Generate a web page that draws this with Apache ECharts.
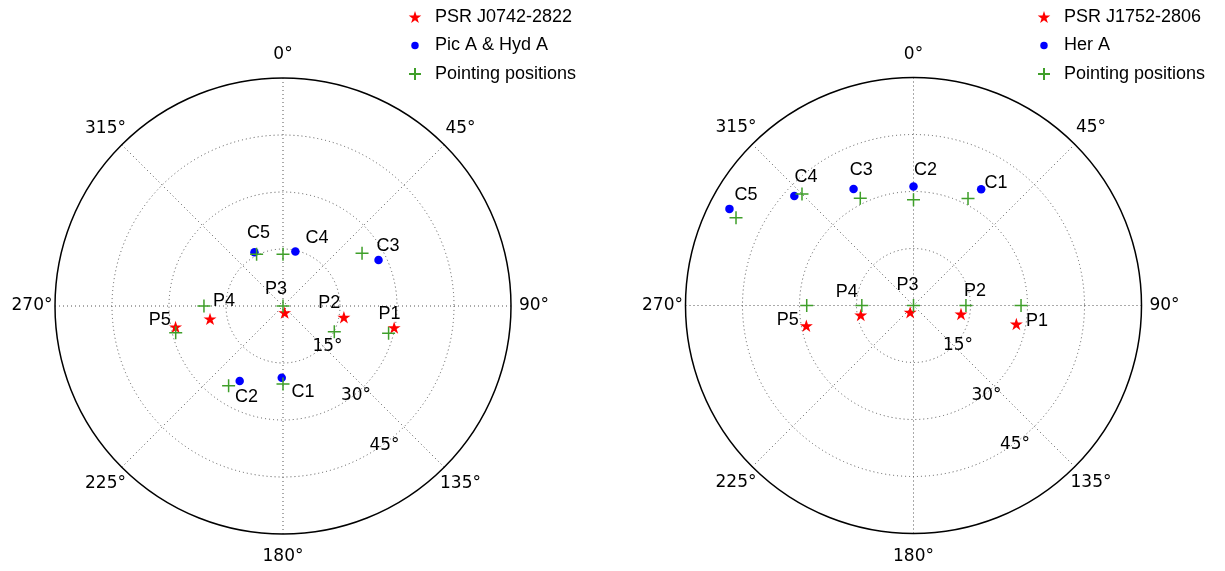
<!DOCTYPE html>
<html>
<head>
<meta charset="utf-8">
<script src="https://cdn.jsdelivr.net/npm/echarts@6/dist/echarts.min.js"></script>
<style>html,body{margin:0;padding:0;background:#fff}#c{width:1225px;height:571px}</style>
</head>
<body>
<div id="c"></div>
<script>
// ---- data: [zenith distance (deg), azimuth (deg)] ----
var pointNames = ['P1','P2','P3','P4','P5','C1','C2','C3','C4','C5'];
var leftPointing = [[28.7,104.5],[15.1,116.6],[0,0],[20.8,270],[29.1,256],[20.5,180],[25.4,214.3],[25.0,56.3],[13.6,0],[15.3,333]];
var leftPulsar = [[29.8,101],[16.3,100.5],[1.8,166],[19.5,260],[28.8,259]];
var leftCalib = [[18.9,181],[22.8,210],[27.9,64.3],[14.7,12.8],[16.0,332]];
var rightPointing = [[28.3,90],[13.8,90],[0,0],[13.6,270],[28.1,270],[31.6,27],[27.8,0],[31.5,333.6],[41.5,315],[52.1,296.3]];
var rightPulsar = [[27.5,100.2],[12.7,100.2],[2.0,206],[14.1,259.8],[28.7,259.3]];
var rightCalib = [[35.4,30.2],[31.3,0],[34.5,332.8],[42.6,312.6],[54.7,297.7]];
var leftNames = ['PSR J0742-2822','Pic A & Hyd A','Pointing positions'];
var rightNames = ['PSR J1752-2806','Her A','Pointing positions'];
var angleTicks = [0,45,90,135,180,225,270,315];
var radialTicks = [15,30,45];
var radialLabelAngle = 150;
var outerRadius = 60;

// ---- styles ----
var labelOffsets = {
  left: {P1:[1,-19],P2:[-5,-29],P3:[-7,-17],P4:[20,-5],P5:[-16,-13],C1:[20,8],C2:[18,11],C3:[26,-7],C4:[34,-16],C5:[2,-21]},
  right:{P1:[16,16],P2:[9,-14],P3:[-6,-20],P4:[-15,-13],P5:[-19,15],C1:[28,-15],C2:[12,-30],C3:[1,-28],C4:[4,-17],C5:[10,-23]}
};
var STAR = 'path://M50 0 L61.23 34.55 L97.55 34.55 L68.16 55.9 L79.39 90.45 L50 69.1 L20.61 90.45 L31.84 55.9 L2.45 34.55 L38.77 34.55 Z';
var PLUS = 'path://M0 50 L100 50 M50 0 L50 100';
var SMALL_DOT = 'path://M0 0 M100 100 M19 50 A31 31 0 1 0 81 50 A31 31 0 1 0 19 50 Z';
var GREEN = '#3f9f2a';
var txtFont = 'Liberation Sans, Arial, sans-serif';
var tickFont = 'DejaVu Sans, sans-serif';
var gridStyle = {color:'#555', width:1, type:[1,3]};
var angleLabelGap = 23;

function angleAxis(idx){
  return {
    polarIndex: idx, type:'value', min:0, max:360, interval:45, startAngle:90, clockwise:true,
    axisLine:{show:true, lineStyle:{color:'#000', width:1.5}},
    axisTick:{show:false},
    splitLine:{show:true, lineStyle:gridStyle},
    axisLabel:{show:false}
  };
}
function radiusAxis(idx){
  return {
    polarIndex: idx, type:'value', min:0, max:60, interval:15,
    axisLine:{show:false}, axisTick:{show:false}, axisLabel:{show:false},
    splitLine:{show:true, lineStyle:{color:['#555','#555','#555','#555','rgba(0,0,0,0)'], width:1, type:[1,3]}}
  };
}
function seriesFor(idx, side, names, pulsar, calib, pointing){
  var pts = pointing.map(function(v,i){
    var n = pointNames[i];
    return {name:n, value:v, label:{show:true, position:'inside', offset:labelOffsets[side][n], formatter:n,
      color:'#000', fontFamily:txtFont, fontSize:18}};
  });
  var angLabels = angleTicks.map(function(a){
    var t = a * Math.PI / 180;
    return {value:[outerRadius, a], label:{offset:[angleLabelGap*Math.sin(t), -angleLabelGap*Math.cos(t)]}};
  });
  return [
    {name:names[0], type:'scatter', coordinateSystem:'polar', polarIndex:idx, symbol:STAR, symbolSize:13, symbolKeepAspect:true,
     itemStyle:{color:'#ff0000', opacity:1}, data:pulsar, z:3},
    {name:names[1], type:'scatter', coordinateSystem:'polar', polarIndex:idx, symbol:'circle', symbolSize:8.5,
     itemStyle:{color:'#0000ff', opacity:1}, data:calib, z:4},
    {name:names[2], type:'scatter', coordinateSystem:'polar', polarIndex:idx, symbol:PLUS, symbolSize:13,
     itemStyle:{color:'rgba(0,0,0,0)', borderColor:GREEN, borderWidth:1.5, opacity:1}, data:pts, z:5},
    {name:'rlabels'+idx, type:'scatter', coordinateSystem:'polar', polarIndex:idx, symbolSize:0, silent:true,
     itemStyle:{opacity:1, color:'#000'},
     data:radialTicks.map(function(r){return [r, radialLabelAngle];}),
     label:{show:true, position:'inside', offset:[16,-9], color:'#000', textBorderWidth:0, fontFamily:tickFont, fontSize:17,
       formatter:function(p){return p.value[0] + '°';}}, z:6},
    {name:'alabels'+idx, type:'scatter', coordinateSystem:'polar', polarIndex:idx, symbolSize:0, silent:true,
     itemStyle:{opacity:1, color:'#000'},
     data:angLabels,
     label:{show:true, position:'inside', color:'#000', textBorderWidth:0, fontFamily:tickFont, fontSize:17,
       formatter:function(p){return p.value[1] + '°';}}, z:6}
  ];
}
function legendData(names){
  return [{name:names[0]}, {name:names[1], icon:SMALL_DOT}, {name:names[2]}];
}

var chart = echarts.init(document.getElementById('c'), null, {renderer:'canvas'});
chart.setOption({
  animation:false,
  backgroundColor:'#fff',
  polar:[{center:[283,306], radius:228},{center:[913.5,305.5], radius:228}],
  angleAxis:[angleAxis(0), angleAxis(1)],
  radiusAxis:[radiusAxis(0), radiusAxis(1)],
  legend:[
    {orient:'vertical', left:403, top:3, itemWidth:30, itemHeight:12, itemGap:10.5, data:legendData(leftNames),
     textStyle:{fontFamily:txtFont, fontSize:18, color:'#000'}, selectedMode:false},
    {orient:'vertical', left:1032, top:3, itemWidth:30, itemHeight:12, itemGap:10.5, data:legendData(rightNames),
     textStyle:{fontFamily:txtFont, fontSize:18, color:'#000'}, selectedMode:false}
  ],
  series: seriesFor(0,'left',leftNames,leftPulsar,leftCalib,leftPointing)
    .concat(seriesFor(1,'right',rightNames,rightPulsar,rightCalib,rightPointing))
});
</script>
</body>
</html>
